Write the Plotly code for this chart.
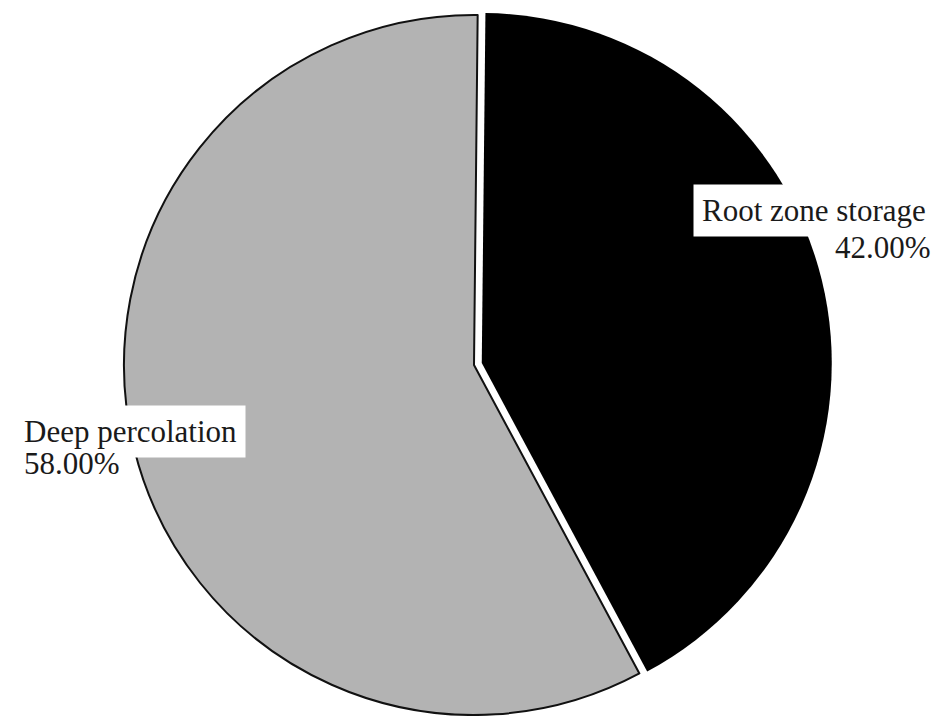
import math
import plotly.graph_objects as go

# Water balance components (percent of total)
labels = ["Root zone storage", "Deep percolation"]
values = [42.00, 58.00]
fill_colors = ["#000000", "#b3b3b3"]

W, H = 947, 716
CX, CY, R = 474, 365, 350        # pie centre and radius in pixels
PULL_PX = 8                      # how far the first slice is pulled out
ROTATION = 0.6                   # start angle, degrees clockwise from 12 o'clock


def domain_for(cx, cy, r):
    return dict(x=[(cx - r) / W, (cx + r) / W],
                y=[1 - (cy + r) / H, 1 - (cy - r) / H])


# offset of the pulled slice along its mid-angle
total = sum(values)
mid = math.radians(ROTATION + 360 * values[0] / total / 2)
dx, dy = PULL_PX * math.sin(mid), -PULL_PX * math.cos(mid)

clear = "rgba(0,0,0,0)"
common = dict(labels=labels, values=values, sort=False, direction="clockwise",
              rotation=ROTATION, textinfo="none", hoverinfo="label+percent",
              showlegend=False)

fig = go.Figure()
# remaining slice, with a dark outline
fig.add_trace(go.Pie(
    **common,
    domain=domain_for(CX, CY, R),
    marker=dict(colors=[clear, fill_colors[1]],
                line=dict(color=[clear, "#111111"], width=[0, 2])),
))
# pulled-out slice
fig.add_trace(go.Pie(
    **common,
    domain=domain_for(CX + dx, CY + dy, R),
    marker=dict(colors=[fill_colors[0], clear],
                line=dict(color=[clear, clear], width=[0, 0])),
))

font = dict(family="Liberation Serif, Times New Roman, serif", size=31, color="#1a1a1a")


def ann(text, x, y, xanchor, bg=None):
    d = dict(text=text, x=x / W, y=1 - y / H, xref="paper", yref="paper",
             xanchor=xanchor, yanchor="middle", showarrow=False, font=font,
             borderpad=8)
    if bg:
        d["bgcolor"] = bg
    return d


pct = [f"{v / total * 100:.2f}%" for v in values]
fig.update_layout(
    width=W, height=H,
    margin=dict(l=0, r=0, t=0, b=0),
    paper_bgcolor="white", plot_bgcolor="white",
    annotations=[
        ann(labels[0], 935, 211, "right", "white"),
        ann(pct[0], 940, 248, "right"),
        ann(labels[1], 15, 431, "left", "white"),
        ann(pct[1], 15, 463, "left"),
    ],
)

fig.write_html("out.html")
